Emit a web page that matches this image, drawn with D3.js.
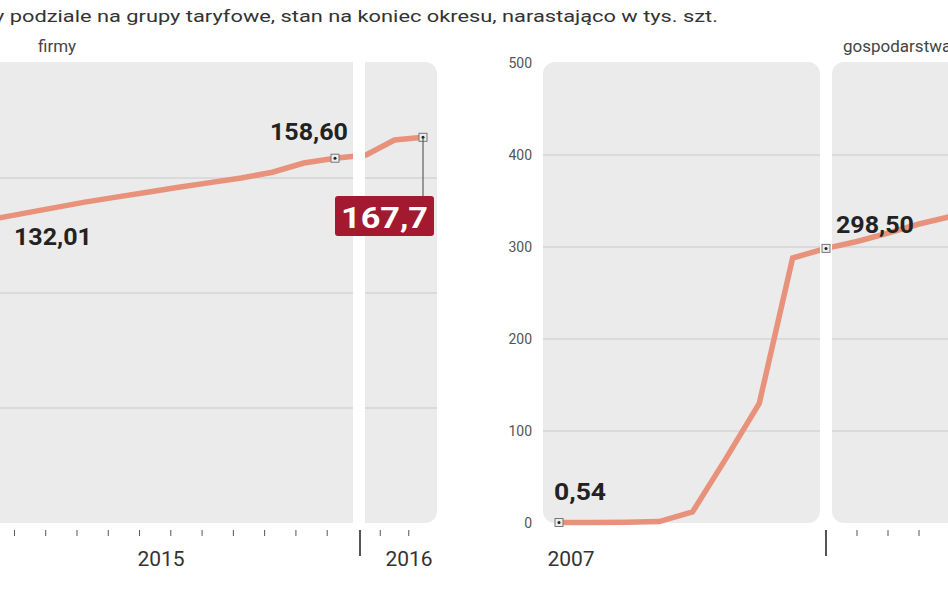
<!DOCTYPE html><html><head><meta charset="utf-8"><script src="https://cdn.jsdelivr.net/npm/d3@7"></script>
<style>body{margin:0;background:#fff}text{font-family:Roboto,"Liberation Sans",sans-serif}</style></head><body>
<script>
const firmyMonths=[0,1,2,3,4,5,6,7,8,9,10,11,12,13,14];
const firmyValues=[132.01,134.5,137,139.5,141.7,143.8,146,148,150,152.5,156.5,158.6,160,166.5,167.7];
const domPeriods=[0,1,2,3,4,5,6,7,8,9,10,11,12];
const domValues=[0.54,0.6,0.8,1.5,12,70,130,288,298.5,306,315,325,333];
const leftTicks=[50,100,150];
const rightTicks=[0,100,200,300,400,500];
const title="y podziale na grupy taryfowe, stan na koniec okresu, narastająco w tys. szt.";
const W=948,H=593;
const svg=d3.select("body").append("svg").attr("width",W).attr("height",H);
const yL=d3.scaleLinear().domain([0,200]).range([523,63]);
const xL=d3.scaleLinear().domain([0,11,12,14]).range([-9,335,366,423]);
const yR=d3.scaleLinear().domain([0,500]).range([523,63]);
const xR=d3.scaleLinear().domain([0,8,12]).range([559,826,950]);
const bg="#ebebeb";
svg.append("rect").attr("x",-20).attr("y",62).attr("width",373).attr("height",461).attr("fill",bg);
svg.append("rect").attr("x",345).attr("y",62).attr("width",92).attr("height",461).attr("rx",12).attr("fill",bg);
svg.append("rect").attr("x",543).attr("y",62).attr("width",277).attr("height",461).attr("rx",12).attr("fill",bg);
svg.append("rect").attr("x",832).attr("y",62).attr("width",140).attr("height",461).attr("rx",12).attr("fill",bg);
svg.append("g").selectAll("line").data(leftTicks).join("line").attr("x1",0).attr("x2",437).attr("y1",d=>yL(d)).attr("y2",d=>yL(d)).attr("stroke","#c9c9c9");
svg.append("g").selectAll("line").data(rightTicks.slice(1,5)).join("line").attr("x1",543).attr("x2",948).attr("y1",d=>yR(d)).attr("y2",d=>yR(d)).attr("stroke","#c9c9c9");
svg.append("g").selectAll("text").data(rightTicks).join("text").attr("x",532).attr("y",d=>yR(d)+5).attr("text-anchor","end").attr("font-size",14).attr("fill","#555").text(d=>d);
const lc="#e8927c";
svg.append("path").datum(firmyMonths).attr("d",d3.line().x(i=>xL(i)).y(i=>yL(firmyValues[i]))).attr("fill","none").attr("stroke",lc).attr("stroke-width",5.5);
svg.append("path").datum(domPeriods).attr("d",d3.line().x(i=>xR(i)).y(i=>yR(domValues[i]))).attr("fill","none").attr("stroke",lc).attr("stroke-width",5.5);
svg.append("rect").attr("x",353).attr("y",40).attr("width",12).attr("height",490).attr("fill","#fff");
svg.append("rect").attr("x",820).attr("y",40).attr("width",12).attr("height",490).attr("fill","#fff");
function mk(x,y){svg.append("rect").attr("x",x-4).attr("y",y-4).attr("width",8).attr("height",8).attr("fill","#eee").attr("stroke","#777");svg.append("circle").attr("cx",x).attr("cy",y).attr("r",1.5).attr("fill","#222");}
mk(xL(11),yL(158.6));mk(xL(14),yL(167.7));mk(xR(0),yR(0.54));mk(xR(8),yR(298.5));
function lab(x,y,t,len){svg.append("text").attr("x",x).attr("y",y).attr("font-size",24).attr("font-weight","bold").attr("fill","#222").attr("textLength",len).attr("lengthAdjust","spacingAndGlyphs").text(t);}
lab(14,245,"132,01",78);lab(270,140,"158,60",78);lab(554,500,"0,54",52);lab(836,233,"298,50",78);
svg.append("line").attr("x1",xL(14)).attr("x2",xL(14)).attr("y1",yL(167.7)).attr("y2",196).attr("stroke","#444");
svg.append("rect").attr("x",335).attr("y",196).attr("width",99).attr("height",40).attr("rx",3).attr("fill","#a3192f");
svg.append("text").attr("x",341).attr("y",228).attr("font-size",30).attr("font-weight","bold").attr("fill","#fff").attr("textLength",87).attr("lengthAdjust","spacingAndGlyphs").text("167,7");
const ticksL=[0.75,1.75,2.75,3.75,4.75,5.75,6.75,7.75,8.75,9.75,10.75];
svg.append("g").selectAll("line").data(ticksL).join("line").attr("x1",d=>xL(d)).attr("x2",d=>xL(d)).attr("y1",530).attr("y2",536).attr("stroke","#555");
svg.append("g").selectAll("line").data([12.5,13.5]).join("line").attr("x1",d=>xL(d)).attr("x2",d=>xL(d)).attr("y1",530).attr("y2",536).attr("stroke","#555");
svg.append("g").selectAll("line").data([9,10,11]).join("line").attr("x1",d=>xR(d)).attr("x2",d=>xR(d)).attr("y1",530).attr("y2",536).attr("stroke","#555");
svg.append("line").attr("x1",360).attr("x2",360).attr("y1",530).attr("y2",556).attr("stroke","#555").attr("stroke-width",2);
svg.append("line").attr("x1",xR(8)).attr("x2",xR(8)).attr("y1",530).attr("y2",556).attr("stroke","#555").attr("stroke-width",2);
function xl(x,t){svg.append("text").attr("x",x).attr("y",566).attr("text-anchor","middle").attr("font-size",21).attr("fill","#333").text(t);}
xl(161,"2015");xl(409,"2016");xl(571,"2007");
svg.append("text").attr("x",-6).attr("y",22).attr("font-size",17).attr("fill","#333").attr("textLength",724).attr("lengthAdjust","spacingAndGlyphs").text(title);
svg.append("text").attr("x",38).attr("y",52).attr("font-size",17).attr("fill","#444").text("firmy");
svg.append("text").attr("x",843).attr("y",52).attr("font-size",17).attr("fill","#444").text("gospodarstwa domowe");
</script></body></html>
